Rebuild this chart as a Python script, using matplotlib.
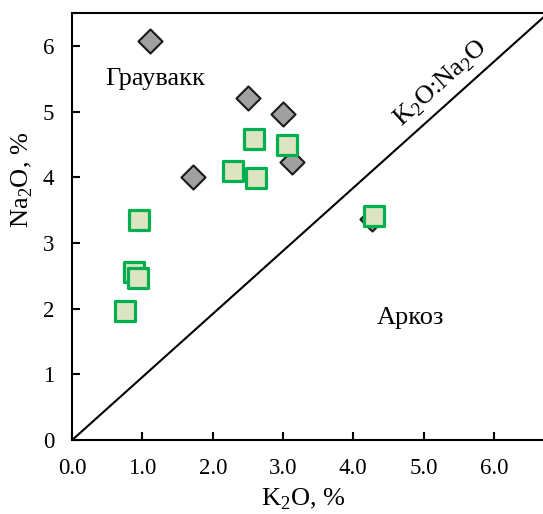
import matplotlib
matplotlib.use('Agg')
import matplotlib.pyplot as plt

plt.rcParams['font.family'] = ['Liberation Serif', 'DejaVu Serif']
plt.rcParams['mathtext.fontset'] = 'custom'
plt.rcParams['mathtext.rm'] = 'Liberation Serif'

# greywacke samples (diamonds)
k2o_a = [1.10, 2.50, 3.00, 3.13, 1.72, 4.26]
na2o_a = [6.07, 5.20, 4.96, 4.23, 4.00, 3.37]

# second group (squares)
k2o_b = [2.59, 3.05, 2.29, 2.61, 0.95, 4.29, 0.88, 0.94, 0.75]
na2o_b = [4.59, 4.49, 4.10, 3.99, 3.35, 3.41, 2.55, 2.46, 1.97]

# K2O:Na2O boundary
line_x = [0, 6.7]
line_y = [0, 6.43]

xticks = [0, 1, 2, 3, 4, 5, 6]
yticks = [0, 1, 2, 3, 4, 5, 6]

fig = plt.figure(figsize=(5.43, 5.14), dpi=100)
ax = fig.add_axes([0.133, 0.144, 0.867, 0.8306])

ax.plot(line_x, line_y, color='black', lw=1.5, zorder=2)
ax.scatter(k2o_a, na2o_a, marker='D', s=150, c='#a0a0a0',
           edgecolors='#1a1a1a', linewidths=1.5, zorder=3)
ax.scatter(k2o_b, na2o_b, marker='s', s=190, c='#dde4c2',
           edgecolors='#00b050', linewidths=2.3, zorder=4)

ax.text(0.47, 5.5, 'Граувакк', fontsize=19, ha='left', va='center')
ax.text(4.33, 1.85, 'Аркоз', fontsize=19, ha='left', va='center')
ax.text(5.25, 5.42, r'K$_\mathregular{2}$O:Na$_\mathregular{2}$O', fontsize=19,
        rotation=42, ha='center', va='center', rotation_mode='anchor')

ax.set_xlim(0, 6.7)
ax.set_ylim(0, 6.5)
ax.set_xticks(xticks)
ax.set_xticklabels([f'{v:.1f}' for v in xticks])
ax.set_yticks(yticks)
ax.set_yticklabels([str(v) for v in yticks])
ax.tick_params(direction='in', length=6, width=1.5, labelsize=16.5, pad=13)

ax.spines['right'].set_visible(False)
for side in ('left', 'bottom', 'top'):
    ax.spines[side].set_linewidth(1.5)

ax.set_xlabel(r'K$_\mathregular{2}$O, %', fontsize=19)
ax.xaxis.set_label_coords(0.49, -0.108)
ax.set_ylabel(r'Na$_\mathregular{2}$O, %', fontsize=19)
ax.yaxis.set_label_coords(-0.079, 0.61)

fig.savefig('out.png', dpi=100)
